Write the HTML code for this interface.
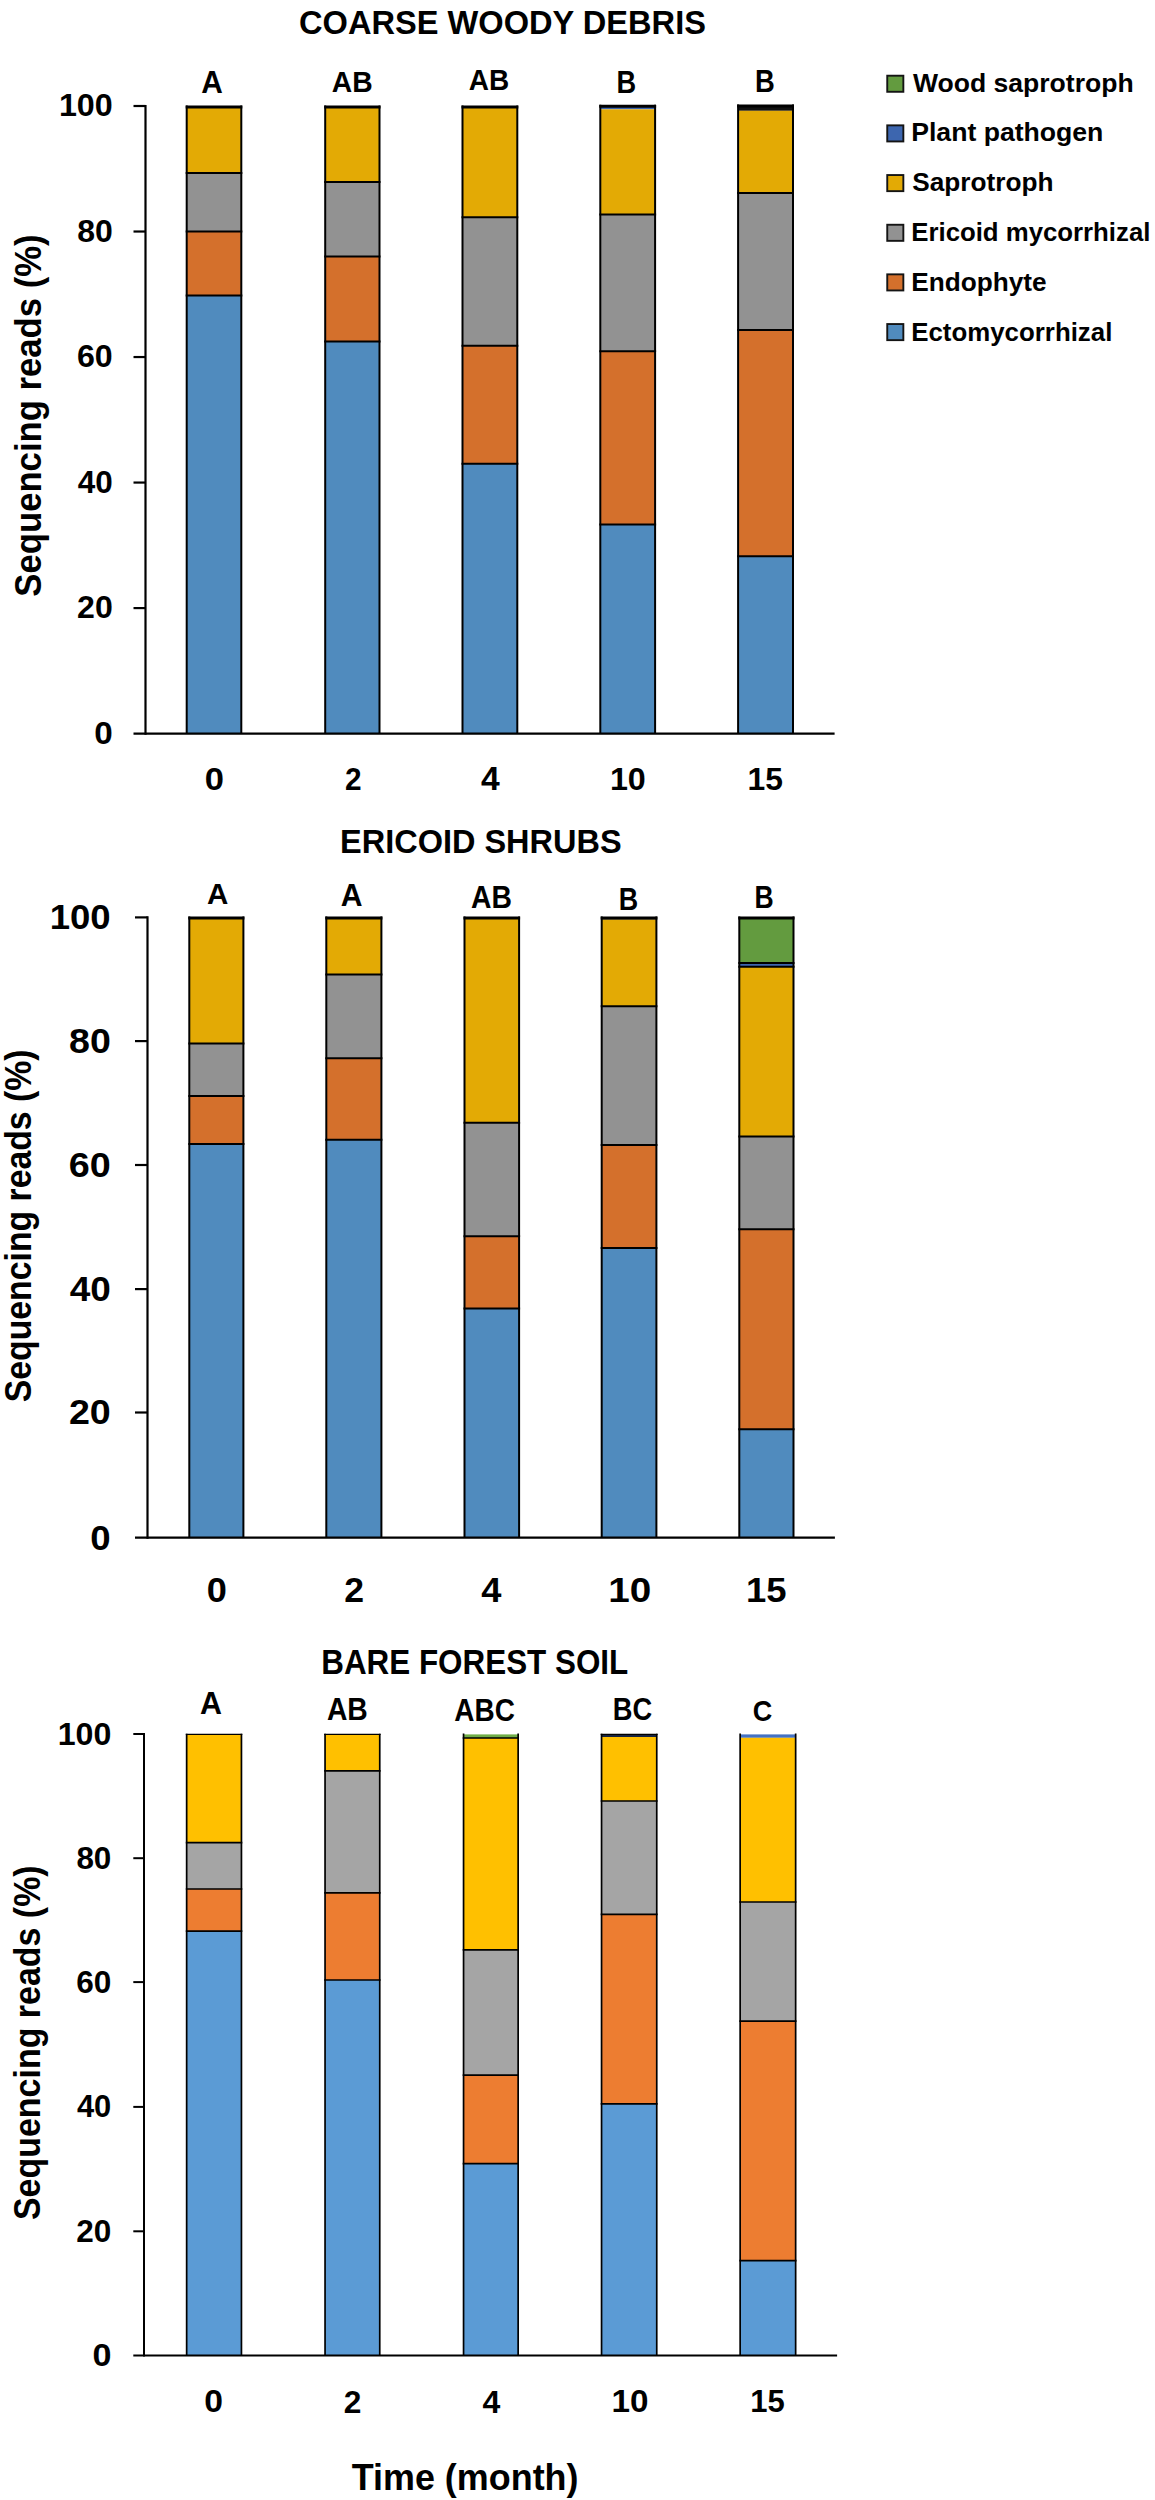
<!DOCTYPE html>
<html><head><meta charset="utf-8"><title>Sequencing reads</title>
<style>
html,body{margin:0;padding:0;background:#fff;}
svg{display:block;}
text{font-family:"Liberation Sans",sans-serif;font-weight:bold;font-size:100px;}
</style></head><body>
<svg width="1155" height="2500" viewBox="0 0 1155 2500">
<rect width="1155" height="2500" fill="#fff"/>
<rect x="186.70" y="106.40" width="54.60" height="66.70" fill="#E3AA05"/>
<rect x="186.70" y="173.10" width="54.60" height="58.30" fill="#929292"/>
<rect x="186.70" y="231.40" width="54.60" height="64.20" fill="#D4702C"/>
<rect x="186.70" y="295.60" width="54.60" height="438.00" fill="#508BBE"/>
<line x1="185.70" y1="106.90" x2="242.30" y2="106.90" stroke="#000" stroke-width="3.0"/>
<line x1="185.70" y1="173.10" x2="242.30" y2="173.10" stroke="#000" stroke-width="2.0"/>
<line x1="185.70" y1="231.40" x2="242.30" y2="231.40" stroke="#000" stroke-width="2.0"/>
<line x1="185.70" y1="295.60" x2="242.30" y2="295.60" stroke="#000" stroke-width="2.0"/>
<line x1="186.70" y1="105.40" x2="186.70" y2="733.60" stroke="#000" stroke-width="2.0"/>
<line x1="241.30" y1="105.40" x2="241.30" y2="733.60" stroke="#000" stroke-width="2.0"/>
<rect x="325.20" y="106.40" width="54.30" height="75.50" fill="#E3AA05"/>
<rect x="325.20" y="181.90" width="54.30" height="74.70" fill="#929292"/>
<rect x="325.20" y="256.60" width="54.30" height="85.00" fill="#D4702C"/>
<rect x="325.20" y="341.60" width="54.30" height="392.00" fill="#508BBE"/>
<line x1="324.20" y1="106.90" x2="380.50" y2="106.90" stroke="#000" stroke-width="3.0"/>
<line x1="324.20" y1="181.90" x2="380.50" y2="181.90" stroke="#000" stroke-width="2.0"/>
<line x1="324.20" y1="256.60" x2="380.50" y2="256.60" stroke="#000" stroke-width="2.0"/>
<line x1="324.20" y1="341.60" x2="380.50" y2="341.60" stroke="#000" stroke-width="2.0"/>
<line x1="325.20" y1="105.40" x2="325.20" y2="733.60" stroke="#000" stroke-width="2.0"/>
<line x1="379.50" y1="105.40" x2="379.50" y2="733.60" stroke="#000" stroke-width="2.0"/>
<rect x="462.50" y="106.40" width="54.80" height="110.80" fill="#E3AA05"/>
<rect x="462.50" y="217.20" width="54.80" height="128.50" fill="#929292"/>
<rect x="462.50" y="345.70" width="54.80" height="118.10" fill="#D4702C"/>
<rect x="462.50" y="463.80" width="54.80" height="269.80" fill="#508BBE"/>
<line x1="461.50" y1="106.90" x2="518.30" y2="106.90" stroke="#000" stroke-width="3.0"/>
<line x1="461.50" y1="217.20" x2="518.30" y2="217.20" stroke="#000" stroke-width="2.0"/>
<line x1="461.50" y1="345.70" x2="518.30" y2="345.70" stroke="#000" stroke-width="2.0"/>
<line x1="461.50" y1="463.80" x2="518.30" y2="463.80" stroke="#000" stroke-width="2.0"/>
<line x1="462.50" y1="105.40" x2="462.50" y2="733.60" stroke="#000" stroke-width="2.0"/>
<line x1="517.30" y1="105.40" x2="517.30" y2="733.60" stroke="#000" stroke-width="2.0"/>
<rect x="600.30" y="105.80" width="54.80" height="3.50" fill="#3D66AF"/>
<rect x="600.30" y="109.30" width="54.80" height="105.20" fill="#E3AA05"/>
<rect x="600.30" y="214.50" width="54.80" height="136.80" fill="#929292"/>
<rect x="600.30" y="351.30" width="54.80" height="173.10" fill="#D4702C"/>
<rect x="600.30" y="524.40" width="54.80" height="209.20" fill="#508BBE"/>
<line x1="599.30" y1="106.30" x2="656.10" y2="106.30" stroke="#000" stroke-width="3.0"/>
<line x1="599.30" y1="214.50" x2="656.10" y2="214.50" stroke="#000" stroke-width="2.0"/>
<line x1="599.30" y1="351.30" x2="656.10" y2="351.30" stroke="#000" stroke-width="2.0"/>
<line x1="599.30" y1="524.40" x2="656.10" y2="524.40" stroke="#000" stroke-width="2.0"/>
<line x1="600.30" y1="104.80" x2="600.30" y2="733.60" stroke="#000" stroke-width="2.0"/>
<line x1="655.10" y1="104.80" x2="655.10" y2="733.60" stroke="#000" stroke-width="2.0"/>
<rect x="738.10" y="105.60" width="54.90" height="5.20" fill="#111111"/>
<rect x="738.10" y="110.80" width="54.90" height="82.20" fill="#E3AA05"/>
<rect x="738.10" y="193.00" width="54.90" height="137.10" fill="#929292"/>
<rect x="738.10" y="330.10" width="54.90" height="226.20" fill="#D4702C"/>
<rect x="738.10" y="556.30" width="54.90" height="177.30" fill="#508BBE"/>
<line x1="737.10" y1="106.10" x2="794.00" y2="106.10" stroke="#000" stroke-width="3.0"/>
<line x1="737.10" y1="193.00" x2="794.00" y2="193.00" stroke="#000" stroke-width="2.0"/>
<line x1="737.10" y1="330.10" x2="794.00" y2="330.10" stroke="#000" stroke-width="2.0"/>
<line x1="737.10" y1="556.30" x2="794.00" y2="556.30" stroke="#000" stroke-width="2.0"/>
<line x1="738.10" y1="104.60" x2="738.10" y2="733.60" stroke="#000" stroke-width="2.0"/>
<line x1="793.00" y1="104.60" x2="793.00" y2="733.60" stroke="#000" stroke-width="2.0"/>
<line x1="145.50" y1="104.90" x2="145.50" y2="734.70" stroke="#000" stroke-width="2.2"/>
<line x1="133.50" y1="733.60" x2="834.60" y2="733.60" stroke="#000" stroke-width="2.2"/>
<line x1="133.50" y1="106.00" x2="145.50" y2="106.00" stroke="#000" stroke-width="2.2"/>
<line x1="133.50" y1="231.52" x2="145.50" y2="231.52" stroke="#000" stroke-width="2.2"/>
<line x1="133.50" y1="357.04" x2="145.50" y2="357.04" stroke="#000" stroke-width="2.2"/>
<line x1="133.50" y1="482.56" x2="145.50" y2="482.56" stroke="#000" stroke-width="2.2"/>
<line x1="133.50" y1="608.08" x2="145.50" y2="608.08" stroke="#000" stroke-width="2.2"/>
<text transform="matrix(0.3227 0 0 0.3152 58.88 116.13)" fill="#000">100</text>
<text transform="matrix(0.3200 0 0 0.3152 77.16 241.65)" fill="#000">80</text>
<text transform="matrix(0.3215 0 0 0.3152 76.99 367.17)" fill="#000">60</text>
<text transform="matrix(0.3147 0 0 0.3152 77.73 492.69)" fill="#000">40</text>
<text transform="matrix(0.3208 0 0 0.3152 77.08 618.21)" fill="#000">20</text>
<text transform="matrix(0.3326 0 0 0.3152 94.27 743.73)" fill="#000">0</text>
<text transform="matrix(0.3453 0 0 0.3152 204.72 789.78)" fill="#000">0</text>
<text transform="matrix(0.2979 0 0 0.3197 344.96 790.10)" fill="#000">2</text>
<text transform="matrix(0.3364 0 0 0.3244 481.00 790.10)" fill="#000">4</text>
<text transform="matrix(0.3226 0 0 0.3152 609.88 789.78)" fill="#000">10</text>
<text transform="matrix(0.3186 0 0 0.3197 747.61 789.78)" fill="#000">15</text>
<text transform="matrix(0.2985 0 0 0.3055 201.35 93.00)" fill="#000">A</text>
<text transform="matrix(0.2829 0 0 0.3011 331.79 92.00)" fill="#000">AB</text>
<text transform="matrix(0.2800 0 0 0.2982 468.70 89.70)" fill="#000">AB</text>
<text transform="matrix(0.2721 0 0 0.3127 616.56 92.80)" fill="#000">B</text>
<text transform="matrix(0.2738 0 0 0.3127 754.95 91.50)" fill="#000">B</text>
<text transform="matrix(0.3261 0 0 0.3322 299.00 34.17)" fill="#000">COARSE WOODY DEBRIS</text>
<text transform="matrix(0 -0.3469 0.3669 0 40.60 596.64)">Sequencing reads (%)</text>
<rect x="189.30" y="917.40" width="54.10" height="126.10" fill="#E3AA05"/>
<rect x="189.30" y="1043.50" width="54.10" height="52.40" fill="#929292"/>
<rect x="189.30" y="1095.90" width="54.10" height="48.10" fill="#D4702C"/>
<rect x="189.30" y="1144.00" width="54.10" height="393.70" fill="#508BBE"/>
<line x1="188.30" y1="917.90" x2="244.40" y2="917.90" stroke="#000" stroke-width="3.0"/>
<line x1="188.30" y1="1043.50" x2="244.40" y2="1043.50" stroke="#000" stroke-width="2.0"/>
<line x1="188.30" y1="1095.90" x2="244.40" y2="1095.90" stroke="#000" stroke-width="2.0"/>
<line x1="188.30" y1="1144.00" x2="244.40" y2="1144.00" stroke="#000" stroke-width="2.0"/>
<line x1="189.30" y1="916.40" x2="189.30" y2="1537.70" stroke="#000" stroke-width="2.0"/>
<line x1="243.40" y1="916.40" x2="243.40" y2="1537.70" stroke="#000" stroke-width="2.0"/>
<rect x="326.30" y="917.40" width="55.10" height="57.20" fill="#E3AA05"/>
<rect x="326.30" y="974.60" width="55.10" height="83.70" fill="#929292"/>
<rect x="326.30" y="1058.30" width="55.10" height="81.50" fill="#D4702C"/>
<rect x="326.30" y="1139.80" width="55.10" height="397.90" fill="#508BBE"/>
<line x1="325.30" y1="917.90" x2="382.40" y2="917.90" stroke="#000" stroke-width="3.0"/>
<line x1="325.30" y1="974.60" x2="382.40" y2="974.60" stroke="#000" stroke-width="2.0"/>
<line x1="325.30" y1="1058.30" x2="382.40" y2="1058.30" stroke="#000" stroke-width="2.0"/>
<line x1="325.30" y1="1139.80" x2="382.40" y2="1139.80" stroke="#000" stroke-width="2.0"/>
<line x1="326.30" y1="916.40" x2="326.30" y2="1537.70" stroke="#000" stroke-width="2.0"/>
<line x1="381.40" y1="916.40" x2="381.40" y2="1537.70" stroke="#000" stroke-width="2.0"/>
<rect x="464.50" y="917.40" width="54.60" height="205.30" fill="#E3AA05"/>
<rect x="464.50" y="1122.70" width="54.60" height="113.50" fill="#929292"/>
<rect x="464.50" y="1236.20" width="54.60" height="72.40" fill="#D4702C"/>
<rect x="464.50" y="1308.60" width="54.60" height="229.10" fill="#508BBE"/>
<line x1="463.50" y1="917.90" x2="520.10" y2="917.90" stroke="#000" stroke-width="3.0"/>
<line x1="463.50" y1="1122.70" x2="520.10" y2="1122.70" stroke="#000" stroke-width="2.0"/>
<line x1="463.50" y1="1236.20" x2="520.10" y2="1236.20" stroke="#000" stroke-width="2.0"/>
<line x1="463.50" y1="1308.60" x2="520.10" y2="1308.60" stroke="#000" stroke-width="2.0"/>
<line x1="464.50" y1="916.40" x2="464.50" y2="1537.70" stroke="#000" stroke-width="2.0"/>
<line x1="519.10" y1="916.40" x2="519.10" y2="1537.70" stroke="#000" stroke-width="2.0"/>
<rect x="601.70" y="917.40" width="54.70" height="2.20" fill="#111111"/>
<rect x="601.70" y="919.60" width="54.70" height="86.60" fill="#E3AA05"/>
<rect x="601.70" y="1006.20" width="54.70" height="138.90" fill="#929292"/>
<rect x="601.70" y="1145.10" width="54.70" height="102.90" fill="#D4702C"/>
<rect x="601.70" y="1248.00" width="54.70" height="289.70" fill="#508BBE"/>
<line x1="600.70" y1="917.90" x2="657.40" y2="917.90" stroke="#000" stroke-width="3.0"/>
<line x1="600.70" y1="1006.20" x2="657.40" y2="1006.20" stroke="#000" stroke-width="2.0"/>
<line x1="600.70" y1="1145.10" x2="657.40" y2="1145.10" stroke="#000" stroke-width="2.0"/>
<line x1="600.70" y1="1248.00" x2="657.40" y2="1248.00" stroke="#000" stroke-width="2.0"/>
<line x1="601.70" y1="916.40" x2="601.70" y2="1537.70" stroke="#000" stroke-width="2.0"/>
<line x1="656.40" y1="916.40" x2="656.40" y2="1537.70" stroke="#000" stroke-width="2.0"/>
<rect x="739.30" y="917.40" width="54.20" height="45.50" fill="#639B3F"/>
<rect x="739.30" y="962.90" width="54.20" height="3.90" fill="#3D66AF"/>
<rect x="739.30" y="966.80" width="54.20" height="169.60" fill="#E3AA05"/>
<rect x="739.30" y="1136.40" width="54.20" height="92.90" fill="#929292"/>
<rect x="739.30" y="1229.30" width="54.20" height="199.90" fill="#D4702C"/>
<rect x="739.30" y="1429.20" width="54.20" height="108.50" fill="#508BBE"/>
<line x1="738.30" y1="917.90" x2="794.50" y2="917.90" stroke="#000" stroke-width="3.0"/>
<line x1="738.30" y1="962.90" x2="794.50" y2="962.90" stroke="#000" stroke-width="2.0"/>
<line x1="738.30" y1="966.80" x2="794.50" y2="966.80" stroke="#000" stroke-width="2.0"/>
<line x1="738.30" y1="1136.40" x2="794.50" y2="1136.40" stroke="#000" stroke-width="2.0"/>
<line x1="738.30" y1="1229.30" x2="794.50" y2="1229.30" stroke="#000" stroke-width="2.0"/>
<line x1="738.30" y1="1429.20" x2="794.50" y2="1429.20" stroke="#000" stroke-width="2.0"/>
<line x1="739.30" y1="916.40" x2="739.30" y2="1537.70" stroke="#000" stroke-width="2.0"/>
<line x1="793.50" y1="916.40" x2="793.50" y2="1537.70" stroke="#000" stroke-width="2.0"/>
<line x1="147.50" y1="916.30" x2="147.50" y2="1538.80" stroke="#000" stroke-width="2.2"/>
<line x1="135.00" y1="1537.70" x2="834.90" y2="1537.70" stroke="#000" stroke-width="2.2"/>
<line x1="135.00" y1="917.40" x2="147.50" y2="917.40" stroke="#000" stroke-width="2.2"/>
<line x1="135.00" y1="1041.10" x2="147.50" y2="1041.10" stroke="#000" stroke-width="2.2"/>
<line x1="135.00" y1="1165.00" x2="147.50" y2="1165.00" stroke="#000" stroke-width="2.2"/>
<line x1="135.00" y1="1289.10" x2="147.50" y2="1289.10" stroke="#000" stroke-width="2.2"/>
<line x1="135.00" y1="1412.50" x2="147.50" y2="1412.50" stroke="#000" stroke-width="2.2"/>
<text transform="matrix(0.3655 0 0 0.3576 49.72 929.29)" fill="#000">100</text>
<text transform="matrix(0.3759 0 0 0.3576 68.98 1052.99)" fill="#000">80</text>
<text transform="matrix(0.3777 0 0 0.3576 68.78 1176.89)" fill="#000">60</text>
<text transform="matrix(0.3697 0 0 0.3576 69.65 1300.99)" fill="#000">40</text>
<text transform="matrix(0.3768 0 0 0.3576 68.88 1424.39)" fill="#000">20</text>
<text transform="matrix(0.3663 0 0 0.3576 90.33 1549.59)" fill="#000">0</text>
<text transform="matrix(0.3621 0 0 0.3491 206.85 1601.75)" fill="#000">0</text>
<text transform="matrix(0.3563 0 0 0.3541 344.25 1602.10)" fill="#000">2</text>
<text transform="matrix(0.3626 0 0 0.3593 481.16 1602.10)" fill="#000">4</text>
<text transform="matrix(0.3871 0 0 0.3491 608.18 1601.75)" fill="#000">10</text>
<text transform="matrix(0.3647 0 0 0.3541 746.02 1601.75)" fill="#000">15</text>
<text transform="matrix(0.2955 0 0 0.3011 206.96 903.70)" fill="#000">A</text>
<text transform="matrix(0.3015 0 0 0.3171 340.75 906.40)" fill="#000">A</text>
<text transform="matrix(0.2829 0 0 0.3156 471.09 908.00)" fill="#000">AB</text>
<text transform="matrix(0.2689 0 0 0.3084 618.69 909.60)" fill="#000">B</text>
<text transform="matrix(0.2656 0 0 0.3113 754.61 908.10)" fill="#000">B</text>
<text transform="matrix(0.3250 0 0 0.3364 340.01 853.16)" fill="#000">ERICOID SHRUBS</text>
<text transform="matrix(0 -0.3378 0.3669 0 30.80 1402.21)">Sequencing reads (%)</text>
<rect x="186.65" y="1734.60" width="54.80" height="108.00" fill="#FFC000"/>
<rect x="186.65" y="1842.60" width="54.80" height="46.40" fill="#A5A5A5"/>
<rect x="186.65" y="1889.00" width="54.80" height="42.20" fill="#ED7D31"/>
<rect x="186.65" y="1931.20" width="54.80" height="424.40" fill="#5B9BD5"/>
<line x1="185.80" y1="1734.35" x2="242.30" y2="1734.35" stroke="#000" stroke-width="1.2"/>
<line x1="185.80" y1="1842.60" x2="242.30" y2="1842.60" stroke="#000" stroke-width="1.7"/>
<line x1="185.80" y1="1889.00" x2="242.30" y2="1889.00" stroke="#000" stroke-width="1.7"/>
<line x1="185.80" y1="1931.20" x2="242.30" y2="1931.20" stroke="#000" stroke-width="1.7"/>
<line x1="186.65" y1="1733.75" x2="186.65" y2="2355.60" stroke="#000" stroke-width="1.7"/>
<line x1="241.45" y1="1733.75" x2="241.45" y2="2355.60" stroke="#000" stroke-width="1.7"/>
<rect x="325.05" y="1734.60" width="54.70" height="36.20" fill="#FFC000"/>
<rect x="325.05" y="1770.80" width="54.70" height="122.10" fill="#A5A5A5"/>
<rect x="325.05" y="1892.90" width="54.70" height="87.10" fill="#ED7D31"/>
<rect x="325.05" y="1980.00" width="54.70" height="375.60" fill="#5B9BD5"/>
<line x1="324.20" y1="1734.35" x2="380.60" y2="1734.35" stroke="#000" stroke-width="1.2"/>
<line x1="324.20" y1="1770.80" x2="380.60" y2="1770.80" stroke="#000" stroke-width="1.7"/>
<line x1="324.20" y1="1892.90" x2="380.60" y2="1892.90" stroke="#000" stroke-width="1.7"/>
<line x1="324.20" y1="1980.00" x2="380.60" y2="1980.00" stroke="#000" stroke-width="1.7"/>
<line x1="325.05" y1="1733.75" x2="325.05" y2="2355.60" stroke="#000" stroke-width="1.7"/>
<line x1="379.75" y1="1733.75" x2="379.75" y2="2355.60" stroke="#000" stroke-width="1.7"/>
<rect x="463.55" y="1734.40" width="54.60" height="3.60" fill="#70AD47"/>
<rect x="463.55" y="1738.00" width="54.60" height="211.90" fill="#FFC000"/>
<rect x="463.55" y="1949.90" width="54.60" height="125.30" fill="#A5A5A5"/>
<rect x="463.55" y="2075.20" width="54.60" height="88.40" fill="#ED7D31"/>
<rect x="463.55" y="2163.60" width="54.60" height="192.00" fill="#5B9BD5"/>
<line x1="462.70" y1="1738.00" x2="519.00" y2="1738.00" stroke="#000" stroke-width="1.7"/>
<line x1="462.70" y1="1949.90" x2="519.00" y2="1949.90" stroke="#000" stroke-width="1.7"/>
<line x1="462.70" y1="2075.20" x2="519.00" y2="2075.20" stroke="#000" stroke-width="1.7"/>
<line x1="462.70" y1="2163.60" x2="519.00" y2="2163.60" stroke="#000" stroke-width="1.7"/>
<line x1="463.55" y1="1733.55" x2="463.55" y2="2355.60" stroke="#000" stroke-width="1.7"/>
<line x1="518.15" y1="1733.55" x2="518.15" y2="2355.60" stroke="#000" stroke-width="1.7"/>
<rect x="601.55" y="1734.60" width="55.20" height="2.40" fill="#18243f"/>
<rect x="601.55" y="1737.00" width="55.20" height="64.00" fill="#FFC000"/>
<rect x="601.55" y="1801.00" width="55.20" height="113.30" fill="#A5A5A5"/>
<rect x="601.55" y="1914.30" width="55.20" height="189.50" fill="#ED7D31"/>
<rect x="601.55" y="2103.80" width="55.20" height="251.80" fill="#5B9BD5"/>
<line x1="600.70" y1="1734.35" x2="657.60" y2="1734.35" stroke="#000" stroke-width="1.2"/>
<line x1="600.70" y1="1801.00" x2="657.60" y2="1801.00" stroke="#000" stroke-width="1.7"/>
<line x1="600.70" y1="1914.30" x2="657.60" y2="1914.30" stroke="#000" stroke-width="1.7"/>
<line x1="600.70" y1="2103.80" x2="657.60" y2="2103.80" stroke="#000" stroke-width="1.7"/>
<line x1="601.55" y1="1733.75" x2="601.55" y2="2355.60" stroke="#000" stroke-width="1.7"/>
<line x1="656.75" y1="1733.75" x2="656.75" y2="2355.60" stroke="#000" stroke-width="1.7"/>
<rect x="740.15" y="1734.40" width="55.50" height="3.40" fill="#4472C4"/>
<rect x="740.15" y="1737.80" width="55.50" height="164.20" fill="#FFC000"/>
<rect x="740.15" y="1902.00" width="55.50" height="119.10" fill="#A5A5A5"/>
<rect x="740.15" y="2021.10" width="55.50" height="239.60" fill="#ED7D31"/>
<rect x="740.15" y="2260.70" width="55.50" height="94.90" fill="#5B9BD5"/>
<line x1="739.30" y1="1902.00" x2="796.50" y2="1902.00" stroke="#000" stroke-width="1.7"/>
<line x1="739.30" y1="2021.10" x2="796.50" y2="2021.10" stroke="#000" stroke-width="1.7"/>
<line x1="739.30" y1="2260.70" x2="796.50" y2="2260.70" stroke="#000" stroke-width="1.7"/>
<line x1="740.15" y1="1733.55" x2="740.15" y2="2355.60" stroke="#000" stroke-width="1.7"/>
<line x1="795.65" y1="1733.55" x2="795.65" y2="2355.60" stroke="#000" stroke-width="1.7"/>
<line x1="144.00" y1="1733.00" x2="144.00" y2="2356.60" stroke="#000" stroke-width="2.0"/>
<line x1="133.30" y1="2355.60" x2="837.10" y2="2355.60" stroke="#000" stroke-width="2.0"/>
<line x1="133.30" y1="1734.00" x2="144.00" y2="1734.00" stroke="#000" stroke-width="2.0"/>
<line x1="133.30" y1="1858.20" x2="144.00" y2="1858.20" stroke="#000" stroke-width="2.0"/>
<line x1="133.30" y1="1982.10" x2="144.00" y2="1982.10" stroke="#000" stroke-width="2.0"/>
<line x1="133.30" y1="2106.90" x2="144.00" y2="2106.90" stroke="#000" stroke-width="2.0"/>
<line x1="133.30" y1="2231.30" x2="144.00" y2="2231.30" stroke="#000" stroke-width="2.0"/>
<text transform="matrix(0.3214 0 0 0.3152 57.69 1744.53)" fill="#000">100</text>
<text transform="matrix(0.3142 0 0 0.3152 76.38 1868.73)" fill="#000">80</text>
<text transform="matrix(0.3157 0 0 0.3152 76.22 1992.63)" fill="#000">60</text>
<text transform="matrix(0.3090 0 0 0.3152 76.94 2117.43)" fill="#000">40</text>
<text transform="matrix(0.3150 0 0 0.3152 76.30 2241.83)" fill="#000">20</text>
<text transform="matrix(0.3411 0 0 0.3152 92.44 2366.13)" fill="#000">0</text>
<text transform="matrix(0.3368 0 0 0.3081 204.35 2412.29)" fill="#000">0</text>
<text transform="matrix(0.3167 0 0 0.3125 343.69 2412.60)" fill="#000">2</text>
<text transform="matrix(0.3196 0 0 0.3171 482.42 2412.60)" fill="#000">4</text>
<text transform="matrix(0.3325 0 0 0.3081 611.42 2412.29)" fill="#000">10</text>
<text transform="matrix(0.3098 0 0 0.3125 750.26 2412.29)" fill="#000">15</text>
<text transform="matrix(0.3045 0 0 0.3098 200.04 1714.30)" fill="#000">A</text>
<text transform="matrix(0.2829 0 0 0.3098 326.89 1719.90)" fill="#000">AB</text>
<text transform="matrix(0.2794 0 0 0.3111 454.30 1721.40)" fill="#000">ABC</text>
<text transform="matrix(0.2726 0 0 0.3168 612.86 1719.50)" fill="#000">BC</text>
<text transform="matrix(0.2702 0 0 0.2968 752.82 1721.00)" fill="#000">C</text>
<text transform="matrix(0.3140 0 0 0.3449 321.28 1674.16)" fill="#000">BARE FOREST SOIL</text>
<text transform="matrix(0 -0.3396 0.3724 0 39.90 2220.02)">Sequencing reads (%)</text>
<rect x="887.25" y="75.70" width="16.10" height="16.10" fill="#639B3F" stroke="#141414" stroke-width="1.9"/>
<text transform="matrix(0.2656 0 0 0.2500 912.93 91.60)" fill="#000">Wood saprotroph</text>
<rect x="887.25" y="125.35" width="16.10" height="16.10" fill="#3D66AF" stroke="#141414" stroke-width="1.9"/>
<text transform="matrix(0.2662 0 0 0.2500 911.20 141.40)" fill="#000">Plant pathogen</text>
<rect x="887.25" y="175.05" width="16.10" height="16.10" fill="#E3AA05" stroke="#141414" stroke-width="1.9"/>
<text transform="matrix(0.2622 0 0 0.2500 912.21 191.20)" fill="#000">Saprotroph</text>
<rect x="887.25" y="224.75" width="16.10" height="16.10" fill="#929292" stroke="#141414" stroke-width="1.9"/>
<text transform="matrix(0.2579 0 0 0.2500 911.26 241.00)" fill="#000">Ericoid mycorrhizal</text>
<rect x="887.25" y="274.35" width="16.10" height="16.10" fill="#D4702C" stroke="#141414" stroke-width="1.9"/>
<text transform="matrix(0.2620 0 0 0.2500 911.23 290.80)" fill="#000">Endophyte</text>
<rect x="887.25" y="324.05" width="16.10" height="16.10" fill="#508BBE" stroke="#141414" stroke-width="1.9"/>
<text transform="matrix(0.2586 0 0 0.2500 911.25 340.60)" fill="#000">Ectomycorrhizal</text>
<text transform="matrix(0.3594 0 0 0.3655 351.65 2489.50)" fill="#000">Time (month)</text>
</svg>
</body></html>
